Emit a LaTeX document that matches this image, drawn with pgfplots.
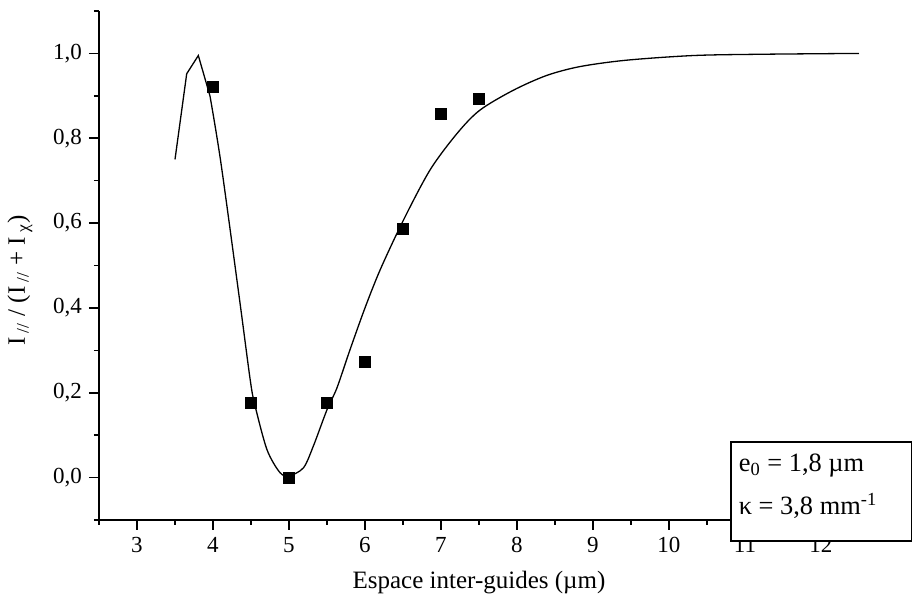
\documentclass[border=0pt]{standalone}
\usepackage{fontspec}
\setmainfont{Liberation Serif}
\usepackage{pgfplots}
\pgfplotsset{compat=1.18}

\pgfplotstableread{
x y
3.5 0.75
3.654 0.952
3.807 0.995
3.96 0.90
}\fitpeak

\pgfplotstableread{
x y
3.96 0.90
4.105 0.741
4.35 0.419
4.49 0.23
4.55 0.172
4.71 0.066
4.88 0.012
5.0 0.004
5.19 0.023
5.32 0.074
5.5 0.16
5.63 0.211
5.8 0.30
6.0 0.40
6.2 0.49
6.5 0.605
6.855 0.725
7.21 0.811
7.51 0.866
7.95 0.913
8.39 0.948
8.83 0.969
9.44 0.984
10.32 0.995
11.2 0.998
12.5 1.0
}\fitdata

\pgfplotstableread{
x y
4.0 0.922
4.5 0.175
5.0 0.0
5.5 0.175
6.0 0.272
6.5 0.587
7.0 0.857
7.5 0.893
}\measdata

\begin{document}
\begin{tikzpicture}
\begin{axis}[
  name=ax,
  scale only axis, width=380pt, height=254.5pt,
  xmin=2.5, xmax=12.5, ymin=-0.1, ymax=1.1,
  axis x line*=bottom, axis y line*=left,
  axis line style={line width=1pt, -},
  xtick={3,4,5,6,7,8,9,10,11,12},
  minor xtick={2.5,3.5,4.5,5.5,6.5,7.5,8.5,9.5,10.5,11.5,12.5},
  ytick={0,0.2,0.4,0.6,0.8,1.0},
  minor ytick={-0.1,0.1,0.3,0.5,0.7,0.9,1.1},
  tick align=outside,
  major tick length=5pt, minor tick length=2.5pt,
  every tick/.style={line width=0.8pt, black},
  tick label style={font=\fontsize{11.5}{13}\selectfont},
  /pgf/number format/assume math mode=true,
  yticklabel style={/pgf/number format/.cd, use comma, fixed, fixed zerofill, precision=1},
  xticklabel style={/pgf/number format/.cd, fixed, precision=0},
  xlabel={Espace inter-guides (µm)},
  ylabel={I\,\textsubscript{//} / (I\,\textsubscript{//} + I\,\textsubscript{χ})},
  label style={font=\fontsize{12.5}{14}\selectfont},
  xlabel style={at={(axis description cs:0.5,-0.134)}, anchor=base},
  ylabel style={at={(axis description cs:-0.104,0.47)}, anchor=center},
  clip=false,
]
\addplot[black, line width=0.65pt, no marks] table {\fitpeak};
\addplot[black, line width=0.65pt, no marks, smooth, tension=0.5] table {\fitdata};
\addplot[only marks, mark=square*, mark size=2.75pt, black] table {\measdata};
\end{axis}
\draw[line width=1pt, fill=white] ([shift={(316.2pt,39.2pt)}]ax.south west) rectangle ++(90.5pt,-49.5pt);
\node[anchor=base west, inner sep=0pt, font=\fontsize{13.2}{15}\selectfont] at ([shift={(319.7pt,24.2pt)}]ax.south west) {e\textsubscript{0} = 1,8 µm};
\node[anchor=base west, inner sep=0pt, font=\fontsize{13.2}{15}\selectfont] at ([shift={(319.7pt,2.7pt)}]ax.south west) {κ = 3,8 mm\textsuperscript{-1}};
\pgfresetboundingbox
\path ([shift={(-49.5pt,-37pt)}]ax.south west) rectangle ([shift={(406.5pt,260pt)}]ax.south west);
\end{tikzpicture}
\end{document}
